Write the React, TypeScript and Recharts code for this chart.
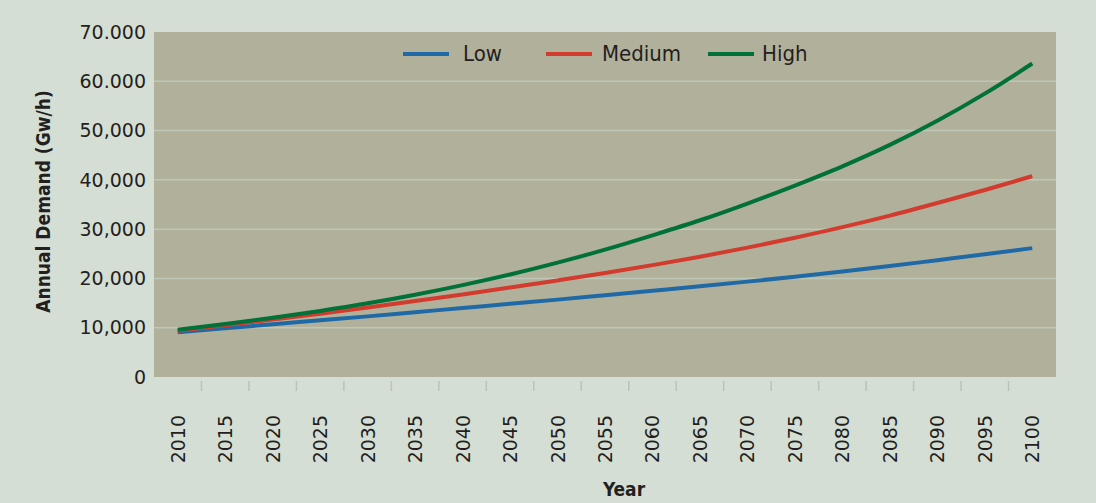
import { LineChart, Line, XAxis, YAxis, CartesianGrid, Legend } from 'recharts';

const years = ['2010', '2015', '2020', '2025', '2030', '2035', '2040', '2045', '2050', '2055',
  '2060', '2065', '2070', '2075', '2080', '2085', '2090', '2095', '2100'];
const lowDemand = [9100, 9900, 10700, 11500, 12300, 13150, 14000, 14850, 15700, 16600,
  17500, 18400, 19350, 20350, 21400, 22500, 23700, 24900, 26150];
const mediumDemand = [9400, 10500, 11650, 12850, 14100, 15400, 16750, 18150, 19600, 21100,
  22700, 24400, 26250, 28250, 30400, 32750, 35300, 37950, 40750];
const highDemand = [9600, 10750, 12000, 13400, 14950, 16700, 18650, 20800, 23200, 25850,
  28750, 31800, 35200, 38850, 42750, 47100, 52000, 57500, 63600];
const yTicks = [0, 10000, 20000, 30000, 40000, 50000, 60000, 70000];
const yTickLabels = ['0', '10,000', '20,000', '30,000', '40,000', '50,000', '60.000', '70.000'];
const gridValues = [10000, 20000, 30000, 40000, 50000, 60000];

const series = [
  { key: 'low', name: 'Low', color: '#1f69a6' },
  { key: 'medium', name: 'Medium', color: '#d23b2e' },
  { key: 'high', name: 'High', color: '#007139' },
];

const data = years.map((year, i) => ({
  year,
  low: lowDemand[i],
  medium: mediumDemand[i],
  high: highDemand[i],
}));

const W = 1096;
const H = 503;
const MARGIN = { top: 32, right: 40, bottom: 0, left: 0 };
const Y_AXIS_W = 154;
const X_AXIS_H = 126;
const plotW = W - MARGIN.left - MARGIN.right - Y_AXIS_W;
const halfBand = plotW / years.length / 2;

const FONT = "'DejaVu Sans', sans-serif";
const COND = "'DejaVu Sans Condensed', 'Liberation Sans Narrow', 'DejaVu Sans', sans-serif";
const TEXT = '#231f20';

// year label in the middle of its band, tick mark on the band boundary
function YearTick(props: any) {
  const { x, y, payload, index } = props;
  const last = index === years.length - 1;
  return (
    <g>
      {!last && (
        <line x1={x + halfBand} x2={x + halfBand} y1={y - 4} y2={y + 6} stroke="#b8c4b7" strokeWidth={1.5} />
      )}
      <text
        x={x}
        y={y + 30}
        transform={`rotate(-90, ${x}, ${y + 30})`}
        textAnchor="end"
        dominantBaseline="central"
        fontFamily={FONT}
        fontSize={19}
        fill={TEXT}
      >
        {payload.value}
      </text>
    </g>
  );
}

function LegendRow() {
  return (
    <div style={{ display: 'flex', alignItems: 'center', fontFamily: COND, fontSize: 22, color: TEXT, whiteSpace: 'nowrap' }}>
      {series.map((s, i) => (
        <div key={s.key} style={{ display: 'flex', alignItems: 'center', marginLeft: [0, 44, 27][i] }}>
          <div style={{ width: 46, height: 4, background: s.color }} />
          <span style={{ marginLeft: [14, 10, 8][i], fontWeight: 500 }}>{s.name}</span>
        </div>
      ))}
    </div>
  );
}

export default function App() {
  return (
    <div style={{ width: W, height: H, background: '#d5ded4' }}>
      <style>{'body{margin:0}'}</style>
      <LineChart width={W} height={H} data={data} margin={MARGIN}>
        <CartesianGrid vertical={false} fill="#b1b19b" stroke="#bdc8b8" strokeWidth={1.5} horizontalValues={gridValues} />
        <XAxis
          dataKey="year"
          height={X_AXIS_H}
          padding={{ left: halfBand, right: halfBand }}
          axisLine={false}
          tickLine={false}
          interval={0}
          tick={<YearTick />}
          label={{
            content: (p: any) => (
              <text
                x={p.viewBox.x + p.viewBox.width / 2 + 19}
                y={p.viewBox.y + 112}
                textAnchor="middle"
                dominantBaseline="central"
                fontFamily={COND}
                fontWeight="bold"
                fontSize={19}
                fill={TEXT}
              >
                Year
              </text>
            ),
          }}
        />
        <YAxis
          width={Y_AXIS_W}
          domain={[0, 70000]}
          ticks={yTicks}
          interval={0}
          axisLine={false}
          tickLine={false}
          tick={{ fontFamily: FONT, fontSize: 19, fill: TEXT }}
          tickFormatter={(v: number) => yTickLabels[yTicks.indexOf(v)]}
          label={{
            content: (p: any) => {
              const cx = p.viewBox.x + 43;
              const cy = p.viewBox.y + p.viewBox.height / 2 - 3;
              return (
                <text
                  x={cx}
                  y={cy}
                  transform={`rotate(-90, ${cx}, ${cy})`}
                  textAnchor="middle"
                  dominantBaseline="central"
                  fontFamily={COND}
                  fontWeight="bold"
                  fontSize={19}
                  fill={TEXT}
                >
                  Annual Demand (Gw/h)
                </text>
              );
            },
          }}
        />
        <Legend
          layout="vertical"
          align="center"
          verticalAlign="middle"
          wrapperStyle={{ position: 'absolute', top: 41, left: 403, width: 'auto' }}
          content={() => <LegendRow />}
        />
        {series.map((s) => (
          <Line
            key={s.key}
            type="monotone"
            dataKey={s.key}
            name={s.name}
            stroke={s.color}
            strokeWidth={4}
            dot={false}
            activeDot={false}
            isAnimationActive={false}
          />
        ))}
      </LineChart>
    </div>
  );
}
